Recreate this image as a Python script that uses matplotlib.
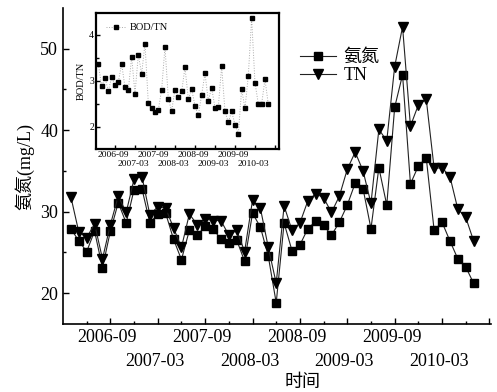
import matplotlib
matplotlib.use("Agg")
import matplotlib.pyplot as plt
from matplotlib.ticker import FixedLocator

plt.rcParams['font.family'] = ['Liberation Serif', 'Noto Sans CJK SC']
plt.rcParams['axes.unicode_minus'] = False

# months relative to 2006-09 (0 = 2006-09)
months = list(range(-5, 47))

nh3n = [27.9, 26.4, 25.1, 27.6, 23.1, 27.6, 31.1, 28.6, 32.7, 32.8,
        28.6, 29.7, 29.8, 26.6, 24.1, 27.7, 27.1, 28.2, 27.9, 26.6,
        26.1, 26.5, 23.9, 29.8, 28.1, 24.5, 18.8, 28.6, 25.2, 25.9,
        27.9, 28.8, 28.3, 27.1, 28.7, 30.8, 33.5, 32.8, 27.9, 35.4,
        30.8, 42.8, 46.8, 33.4, 35.6, 36.6, 27.7, 28.7, 26.4, 24.2,
        23.2, 21.2]

tn = [31.8, 27.5, 26.8, 28.5, 24.2, 28.4, 31.9, 29.9, 34.0, 34.3,
      29.6, 30.6, 30.4, 28.0, 25.6, 29.7, 28.4, 29.1, 28.9, 28.9,
      27.1, 27.7, 25.1, 31.4, 30.4, 25.6, 21.2, 30.7, 27.7, 28.6,
      31.3, 32.2, 31.7, 29.9, 31.9, 35.2, 37.3, 35.0, 31.0, 40.1,
      38.7, 47.8, 52.7, 40.5, 43.1, 43.8, 35.3, 35.4, 34.3, 30.3,
      29.3, 26.4]

bod_tn = [3.36, 2.88, 3.07, 2.78, 3.09, 2.90, 2.98, 3.37, 2.86, 2.80,
          3.52, 2.72, 3.57, 3.15, 3.81, 2.51, 2.40, 2.33, 2.37, 2.81,
          3.74, 2.61, 2.35, 2.81, 2.66, 2.77, 3.29, 2.61, 2.82, 2.46,
          2.25, 2.70, 3.16, 2.57, 2.85, 2.42, 2.43, 3.32, 2.34, 2.10,
          2.34, 2.05, 1.84, 2.82, 2.40, 3.11, 4.36, 2.96, 2.50, 2.50,
          3.03, 2.49]

tick_months = [0, 6, 12, 18, 24, 30, 36, 42, 48]
tick_labels = ['2006-09', '2007-03', '2007-09', '2008-03', '2008-09',
               '2009-03', '2009-09', '2010-03', '']

W, H = 497, 392
fig = plt.figure(figsize=(W / 100, H / 100), dpi=100)


def two_row_labels(a, size, row1_px, row2_px, dx_px):
    a.xaxis.set_major_locator(FixedLocator(tick_months))
    a.set_xticklabels([''] * len(tick_months))
    for i, (m, lab) in enumerate(zip(tick_months, tick_labels)):
        if not lab:
            continue
        off = row1_px if i % 2 == 0 else row2_px
        a.annotate(lab, xy=(m, 0), xycoords=('data', 'axes fraction'),
                   xytext=(dx_px * 0.72, -off * 0.72), textcoords='offset points',
                   ha='center', va='center', fontsize=size, annotation_clip=False)


# ---------------- main axes ----------------
ax = fig.add_axes([63 / W, (H - 324) / H, (491 - 63) / W, (324 - 8) / H])
ax.plot(months, nh3n, color='#222222', lw=0.8, marker='s', ms=5.2,
        mfc='black', mec='black', label='氨氮')
ax.plot(months, tn, color='#222222', lw=0.8, marker='v', ms=6.5,
        mfc='black', mec='black', label='TN')
ax.set_xlim(-6, 48.2)
ax.set_ylim(16.2, 55)
for s in ['top', 'right']:
    ax.spines[s].set_visible(False)
for s in ['left', 'bottom']:
    ax.spines[s].set_linewidth(1.2)

ax.yaxis.set_major_locator(FixedLocator([20, 30, 40, 50]))
ax.yaxis.set_minor_locator(FixedLocator([25, 35, 45]))
ax.xaxis.set_minor_locator(FixedLocator([m + 3 for m in range(-6, 48, 6)]))
ax.tick_params(axis='both', which='major', direction='in', length=4.5,
               width=1.0, labelsize=13)
ax.tick_params(axis='both', which='minor', direction='in', length=2.5, width=1.0)
two_row_labels(ax, 13, 14, 38, -3)

ax.set_ylabel('氨氮(mg/L)', fontsize=13, labelpad=4)
fig.text(303 / W, 1 - 382 / H, '时间', fontsize=13, ha='center', va='center')

ax.legend(loc='upper left', bbox_to_anchor=((293 - 63) / (491 - 63), (324 - 42) / 316),
          frameon=False, fontsize=13, handlelength=2.0, handletextpad=0.4,
          labelspacing=0.05, borderaxespad=0)

# ---------------- inset ----------------
ins = fig.add_axes([96 / W, (H - 149) / H, (279.3 - 96) / W, (149 - 12.7) / H])
ins.plot(months, bod_tn, color='#aaaaaa', lw=0.7, ls=':', marker='s', ms=2.6,
         mfc='black', mec='black', label='BOD/TN')
ins.set_xlim(-5.7, 49.3)
ins.set_ylim(1.52, 4.48)
for s in ins.spines.values():
    s.set_linewidth(1.6)
ins.yaxis.set_major_locator(FixedLocator([2, 3, 4]))
ins.yaxis.set_minor_locator(FixedLocator([2.5, 3.5]))
ins.tick_params(axis='both', which='major', direction='in', length=3, width=1.0,
                labelsize=7, pad=1.5)
ins.tick_params(axis='both', which='minor', direction='in', length=1.8, width=1.0)
two_row_labels(ins, 6.8, 6.5, 15.5, -2)
ins.set_ylabel('BOD/TN', fontsize=7.5, labelpad=2)
ins.legend(loc='upper left', frameon=False, fontsize=7.5, handlelength=1.8,
           handletextpad=0.4, borderaxespad=0.6)

fig.savefig('out.png', dpi=100)
